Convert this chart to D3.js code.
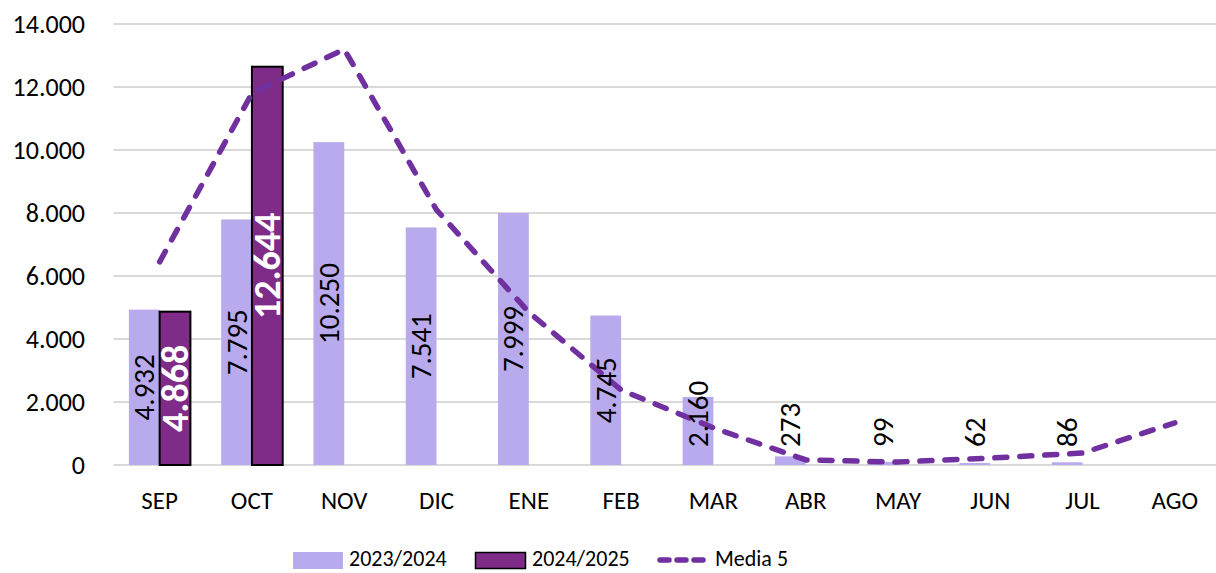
<!DOCTYPE html>
<html><head><meta charset="utf-8">
<script src="https://cdn.jsdelivr.net/npm/d3@7"></script>
<style>
html,body{margin:0;padding:0;background:#fff;}
svg{display:block;font-family:Carlito,Calibri,Lato,sans-serif;}
</style></head>
<body><svg id="c" width="1216" height="573"></svg>
<script>
const categories = ["SEP","OCT","NOV","DIC","ENE","FEB","MAR","ABR","MAY","JUN","JUL","AGO"];
const series2324 = [4932,7795,10250,7541,7999,4745,2160,273,99,62,86,null];
const series2425 = [4868,12644,null,null,null,null,null,null,null,null,null,null];
const media5 = [6450,11800,13200,8100,4850,2380,1180,160,95,220,380,1340];
const yTicks = [0,2000,4000,6000,8000,10000,12000,14000];
const seriesNames = ["2023/2024","2024/2025","Media 5"];

const C1 = "#B8AAEC", C2 = "#7F2B88", CL = "#7030A0";
const svg = d3.select("#c");
const x = d3.scaleBand().domain(categories).range([113.5,1221]).paddingInner(1/3).paddingOuter(1/6);
const xs = d3.scaleBand().domain([0,1]).range([0,x.bandwidth()]);
const y = d3.scaleLinear().domain([0,14000]).range([465,24]);
const fmt = v => d3.format(",")(v).replace(/,/g,".");

// grid
svg.append("g").selectAll("line").data(yTicks).join("line")
  .attr("x1",113.5).attr("x2",1221).attr("y1",d=>y(d)).attr("y2",d=>y(d))
  .attr("stroke","#D9D9D9").attr("stroke-width",2);

// y axis labels
const yAxis = d3.axisLeft(y).tickValues(yTicks).tickFormat(fmt).tickSize(0).tickPadding(0);
const ga = svg.append("g").attr("transform","translate(85,0)").call(yAxis);
ga.select(".domain").remove();
ga.selectAll("text").attr("font-size",26).attr("fill","#000").attr("font-family","Carlito,Calibri,Lato,sans-serif");

// x axis labels
const xAxis = d3.axisBottom(x).tickSize(0).tickPadding(0);
const gx = svg.append("g").attr("transform","translate(0,491)").call(xAxis);
gx.select(".domain").remove();
gx.selectAll("text").attr("font-size",25).attr("fill","#000").attr("dy","0.71em").attr("font-family","Carlito,Calibri,Lato,sans-serif");

// bars
const d1 = categories.map((c,i)=>({c,v:series2324[i]})).filter(d=>d.v!=null);
const d2 = categories.map((c,i)=>({c,v:series2425[i]})).filter(d=>d.v!=null);
svg.append("g").selectAll("rect").data(d1).join("rect")
  .attr("x",d=>x(d.c)+xs(0)).attr("width",xs.bandwidth())
  .attr("y",d=>y(d.v)).attr("height",d=>y(0)-y(d.v)).attr("fill",C1);
svg.append("g").selectAll("rect").data(d2).join("rect")
  .attr("x",d=>x(d.c)+xs(1)).attr("width",xs.bandwidth())
  .attr("y",d=>y(d.v)).attr("height",d=>y(0)-y(d.v)).attr("fill",C2)
  .attr("stroke","#000").attr("stroke-width",2);

// line
const line = d3.line().x((d,i)=>x(categories[i])+x.bandwidth()/2).y(d=>y(d));
svg.append("path").datum(media5).attr("d",line).attr("fill","none")
  .attr("stroke",CL).attr("stroke-width",5.5).attr("stroke-dasharray","12 13")
  .attr("stroke-linecap","round").attr("stroke-linejoin","round");

// labels
function labels(data, sub, size, weight, color){
  const g = svg.append("g");
  data.forEach(d=>{
    const cx = x(d.c)+xs(sub)+xs.bandwidth()/2;
    const t = g.append("text").text(fmt(d.v)).attr("font-size",size).attr("font-weight",weight)
      .attr("fill",color).attr("text-anchor","middle").attr("dominant-baseline","central");
    const len = t.node().getComputedTextLength();
    const barC = (y(d.v)+y(0))/2;
    const cy = Math.min(barC, y(0)-18-len/2);
    t.attr("transform",`translate(${cx},${cy}) rotate(-90)`);
  });
}
labels(d1,0,29,"normal","#000");
labels(d2,1,38,"bold","#fff");

// legend
const lg = svg.append("g");
lg.append("rect").attr("x",293).attr("y",552).attr("width",50).attr("height",17).attr("fill",C1);
lg.append("text").attr("x",349).attr("y",566).text(seriesNames[0]).attr("font-size",22);
lg.append("rect").attr("x",475.5).attr("y",552.5).attr("width",50).attr("height",16).attr("fill",C2).attr("stroke","#000").attr("stroke-width",1.5);
lg.append("text").attr("x",532).attr("y",566).text(seriesNames[1]).attr("font-size",22);
lg.append("line").attr("x1",660).attr("x2",703).attr("y1",560).attr("y2",560)
  .attr("stroke",CL).attr("stroke-width",5.5).attr("stroke-dasharray","9 8").attr("stroke-linecap","round");
lg.append("text").attr("x",715).attr("y",566).text(seriesNames[2]).attr("font-size",22);
</script></body></html>
